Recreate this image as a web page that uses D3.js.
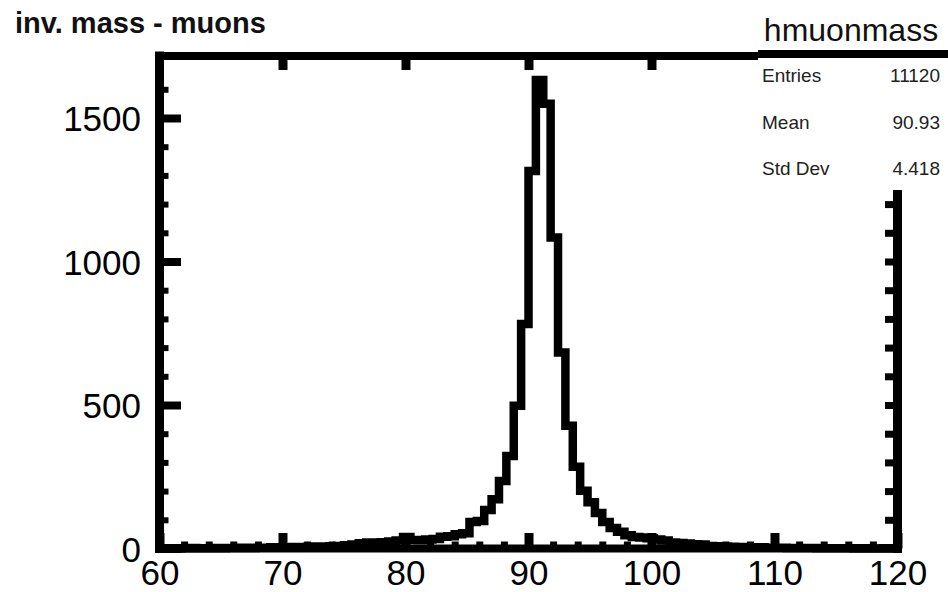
<!DOCTYPE html>
<html lang="en">
<head>
    <meta charset="UTF-8">
    <title>inv. mass - muons</title>
    <script src="https://d3js.org/d3.v7.min.js"></script>
    <style>
        body { margin: 0; background: #fff; }
        text { font-family: "Liberation Sans", Arial, sans-serif; }
        .axis path { display: none; }
        .axis line { stroke: #000; }
        .axis text { font-size: 35px; fill: #000; }
    </style>
</head>
<body>
    <div id="chart"></div>

    <script>
        // Histogram hmuonmass: 100 bins from 60 to 120
        const histRange = [60, 120];
        const counts = [
            0, 1, 0, 1, 2, 1, 1, 2, 1, 2,
            2, 3, 2, 3, 3, 4, 3, 4, 5, 5,
            6, 7, 7, 8, 9, 11,
            14, 18, 21, 19, 22, 24,
            28, 40, 30, 29, 31, 33,
            41, 43, 50, 53, 92, 96,
            134, 172, 235, 322, 497, 782,
            1315, 1632, 1550, 1084, 683, 428,
            285, 201, 161, 124, 92, 71,
            58, 46, 40, 38, 36, 31,
            28, 21, 19, 17, 15, 14,
            9, 8, 7, 6, 5, 5,
            4, 4, 3, 3, 3, 2, 2, 2, 2, 1,
            1, 1, 1, 1, 0, 1, 0, 0, 1, 0
        ];
        const yMax = 1716;

        const xMajor = [60, 70, 80, 90, 100, 110, 120];
        const xMinor = [62, 64, 66, 68, 72, 74, 76, 78, 82, 84, 86, 88, 92, 94, 96, 98, 102, 104, 106, 108, 112, 114, 116, 118];
        const yMajor = [0, 500, 1000, 1500];
        const yMinor = [100, 200, 300, 400, 600, 700, 800, 900, 1100, 1200, 1300, 1400, 1600];

        const title = "inv. mass - muons";
        const statsTitle = "hmuonmass";
        const statsRows = [
            { label: "Entries", value: "11120" },
            { label: "Mean", value: "90.93" },
            { label: "Std Dev", value: "4.418" }
        ];

        // Layout
        const width = 948, height = 592;
        const frame = { left: 159.5, right: 897.5, top: 56, bottom: 548.5 };

        const svg = d3.select("#chart").append("svg")
            .attr("width", width)
            .attr("height", height);

        const x = d3.scaleLinear().domain(histRange).range([frame.left, frame.right]);
        const y = d3.scaleLinear().domain([0, yMax]).range([frame.bottom, frame.top]);

        // histogram contour
        const binW = (histRange[1] - histRange[0]) / counts.length;
        const pts = counts.map((c, i) => [histRange[0] + i * binW, c]);
        pts.push([histRange[1], counts[counts.length - 1]]);

        svg.append("path")
            .datum(pts)
            .attr("fill", "none")
            .attr("stroke", "#000")
            .attr("stroke-width", 8.5)
            .attr("stroke-linejoin", "miter")
            .attr("d", d3.line().x(d => x(d[0])).y(d => y(d[1])).curve(d3.curveStepAfter));

        // frame lines
        const frameG = svg.append("g").attr("stroke", "#000").attr("stroke-linecap", "square");
        frameG.append("line").attr("x1", frame.left).attr("x2", frame.right)
            .attr("y1", frame.bottom).attr("y2", frame.bottom).attr("stroke-width", 8);
        frameG.append("line").attr("x1", frame.left).attr("x2", frame.left)
            .attr("y1", frame.top).attr("y2", frame.bottom).attr("stroke-width", 9);
        frameG.append("line").attr("x1", frame.right).attr("x2", frame.right)
            .attr("y1", frame.top).attr("y2", frame.bottom).attr("stroke-width", 9);
        frameG.append("line").attr("x1", frame.left).attr("x2", frame.right)
            .attr("y1", frame.top).attr("y2", frame.top).attr("stroke-width", 8);

        // bottom axis
        svg.append("g").attr("class", "axis")
            .attr("transform", `translate(0,${frame.bottom})`)
            .call(d3.axisBottom(x).tickValues(xMinor).tickSize(-7).tickFormat(""))
            .selectAll("line").attr("stroke-width", 7);
        const xAx = svg.append("g").attr("class", "axis")
            .attr("transform", `translate(0,${frame.bottom})`)
            .call(d3.axisBottom(x).tickValues(xMajor).tickSize(-15.5).tickPadding(12).tickFormat(d3.format("d")));
        xAx.selectAll("line").attr("stroke-width", 9);
        xAx.selectAll("text").attr("dy", "0.7em");

        // top axis ticks (mirrored)
        svg.append("g").attr("class", "axis")
            .attr("transform", `translate(0,${frame.top})`)
            .call(d3.axisTop(x).tickValues(xMajor.slice(1, -1)).tickSize(-14).tickFormat(""))
            .selectAll("line").attr("stroke-width", 9);

        // left axis
        svg.append("g").attr("class", "axis")
            .attr("transform", `translate(${frame.left},0)`)
            .call(d3.axisLeft(y).tickValues(yMinor).tickSize(-9).tickFormat(""))
            .selectAll("line").attr("stroke-width", 6);
        const yAx = svg.append("g").attr("class", "axis")
            .attr("transform", `translate(${frame.left},0)`)
            .call(d3.axisLeft(y).tickValues(yMajor).tickSize(-21.5).tickPadding(18.5).tickFormat(d3.format("d")));
        yAx.selectAll("line").attr("stroke-width", 8);
        yAx.selectAll("text").attr("dy", "0.36em");

        // right axis ticks (mirrored)
        svg.append("g").attr("class", "axis")
            .attr("transform", `translate(${frame.right},0)`)
            .call(d3.axisRight(y).tickValues(yMinor.concat(yMajor.slice(1))).tickSize(-12.5).tickFormat(""))
            .selectAll("line").attr("stroke-width", 7);

        // title
        svg.append("text")
            .attr("x", 15)
            .attr("y", 33)
            .attr("font-size", 29)
            .attr("font-weight", "bold")
            .attr("fill", "#111")
            .text(title);

        // stats box
        const stats = svg.append("g");
        stats.append("rect")
            .attr("x", 758).attr("y", 0)
            .attr("width", 200).attr("height", 190)
            .attr("fill", "#fff");
        stats.append("line")
            .attr("x1", 758).attr("x2", 948)
            .attr("y1", 54).attr("y2", 54)
            .attr("stroke", "#000").attr("stroke-width", 8);
        stats.append("text")
            .attr("x", 851).attr("y", 41)
            .attr("text-anchor", "middle")
            .attr("font-size", 32)
            .attr("fill", "#111")
            .text(statsTitle);

        const rowY = d3.scalePoint().domain(statsRows.map(d => d.label)).range([82, 175]);
        stats.selectAll(".slabel")
            .data(statsRows)
            .enter().append("text")
            .attr("x", 762)
            .attr("y", d => rowY(d.label))
            .attr("font-size", 19)
            .attr("fill", "#222")
            .text(d => d.label);
        stats.selectAll(".svalue")
            .data(statsRows)
            .enter().append("text")
            .attr("x", 940)
            .attr("y", d => rowY(d.label))
            .attr("text-anchor", "end")
            .attr("font-size", 19)
            .attr("fill", "#222")
            .text(d => d.value);
    </script>
</body>
</html>
